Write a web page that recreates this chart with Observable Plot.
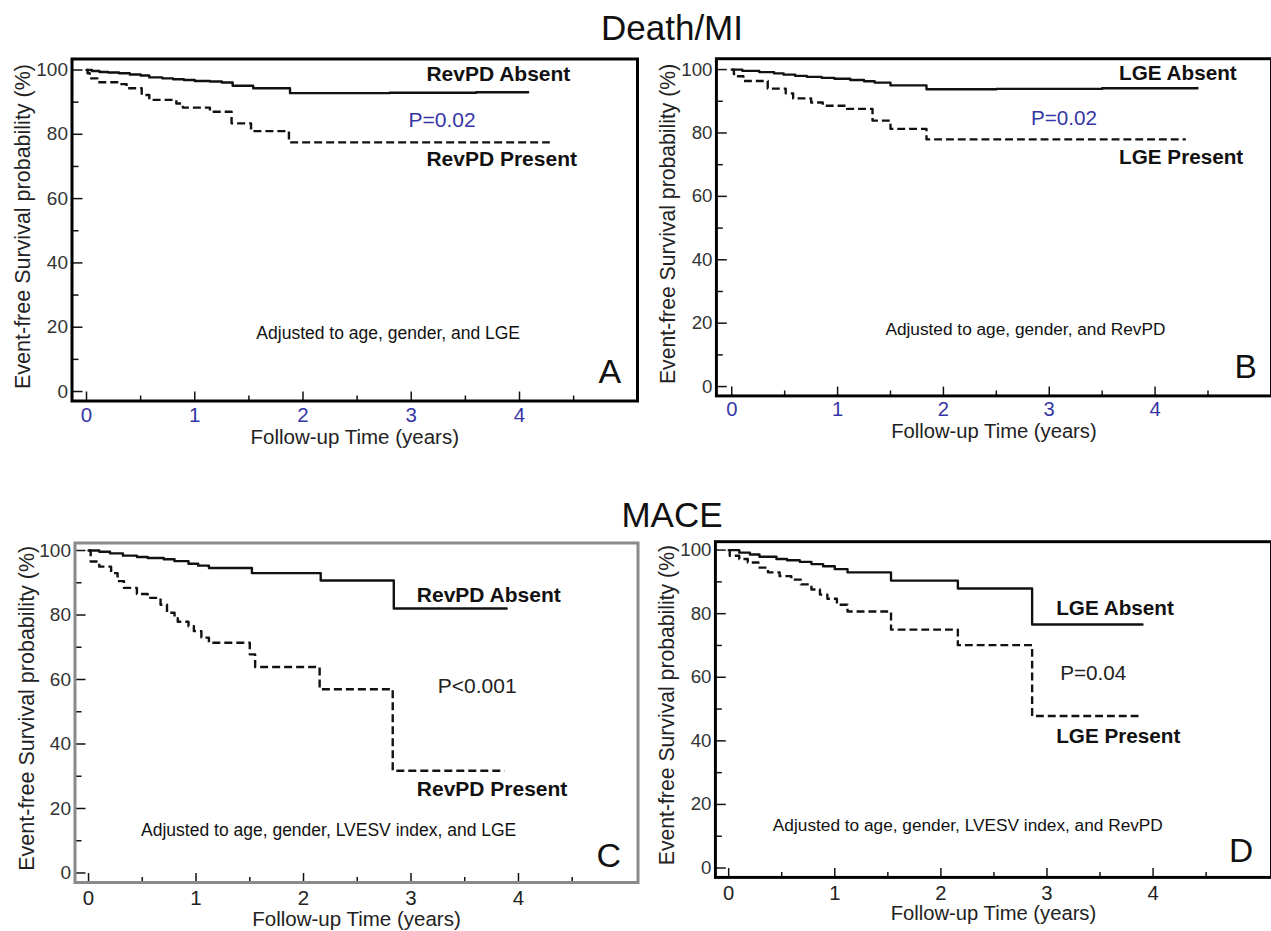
<!DOCTYPE html>
<html>
<head>
<meta charset="utf-8">
<script src="https://cdn.jsdelivr.net/npm/d3@7"></script>
<script src="https://cdn.jsdelivr.net/npm/@observablehq/plot@0.6"></script>
<style>
  html, body { margin: 0; padding: 0; background: #fff; }
  #root { position: relative; width: 1271px; height: 931px; overflow: hidden; background: #fff;
          font-family: "Liberation Sans", Arial, sans-serif; }
  .title { position: absolute; font-size: 35px; line-height: 1; color: #111; transform: translateX(-50%); white-space: nowrap; }
  .panel { position: absolute; }
</style>
</head>
<body>
<div id="root">
  <div class="title" id="t1" style="left:672px; top:10px;">Death/MI</div>
  <div class="title" id="t2" style="left:672px; top:497px;">MACE</div>
</div>
<script>
// ---------- data (time in years, event-free survival in %) ----------
const deathRevpdAbsent = [[0,100],[0.05,99.7],[0.12,99.4],[0.2,99.2],[0.3,99.0],[0.4,98.6],[0.5,98.3],[0.58,97.7],[0.7,97.4],[0.8,97.1],[0.9,96.9],[1.0,96.6],[1.14,96.4],[1.25,96.1],[1.35,95.1],[1.54,94.3],[1.88,92.8],[2.8,92.9],[3.6,93.1],[4.08,93.1]];
const deathRevpdPresent = [[0,100],[0.01,99.0],[0.03,97.4],[0.1,96.2],[0.31,95.6],[0.37,94.3],[0.51,92.2],[0.58,90.7],[0.83,89.6],[0.89,88.3],[1.14,87.0],[1.34,83.4],[1.52,81.0],[1.87,77.5],[4.28,77.5]];
const deathLgeAbsent = [[0,100],[0.1,99.6],[0.26,99.2],[0.4,98.8],[0.49,98.4],[0.6,98.0],[0.71,97.7],[0.85,97.4],[0.97,97.1],[1.12,96.7],[1.25,96.3],[1.35,95.9],[1.5,95.0],[1.84,93.8],[2.5,93.9],[3.5,94.1],[4.40,94.2]];
const deathLgePresent = [[0,100],[0.02,98.6],[0.04,97.9],[0.11,96.4],[0.34,94.0],[0.51,92.5],[0.58,90.9],[0.75,89.6],[0.86,88.6],[1.09,87.6],[1.33,83.9],[1.5,81.3],[1.84,78.0],[4.29,78.0]];
const maceRevpdAbsent = [[0,100],[0.1,99.6],[0.2,99.1],[0.32,98.4],[0.45,98.0],[0.55,97.7],[0.7,97.3],[0.8,96.7],[0.93,95.9],[1.02,95.3],[1.12,94.6],[1.52,93.0],[2.16,90.7],[2.84,82.0],[3.89,82.0]];
const maceRevpdPresent = [[0,100],[0.02,96.6],[0.1,95.0],[0.21,93.0],[0.27,90.5],[0.33,88.4],[0.45,86.5],[0.55,85.3],[0.67,83.2],[0.73,80.7],[0.8,79.0],[0.83,77.9],[0.93,76.5],[0.98,75.0],[1.05,73.0],[1.12,71.4],[1.5,67.8],[1.55,63.9],[2.15,57.0],[2.83,31.7],[3.87,31.7]];
const maceLgeAbsent = [[0,100],[0.1,99.2],[0.2,98.6],[0.29,97.9],[0.45,97.2],[0.55,96.8],[0.67,96.3],[0.78,95.6],[0.89,94.9],[1.0,94.0],[1.12,93.0],[1.53,90.4],[2.16,87.9],[2.86,76.6],[3.9,76.6]];
const maceLgePresent = [[0,100],[0.01,98.2],[0.1,97.2],[0.18,96.1],[0.28,94.5],[0.37,93.0],[0.48,91.8],[0.59,90.7],[0.68,89.2],[0.78,87.6],[0.86,86.0],[0.93,84.7],[1.02,82.8],[1.12,80.7],[1.53,75.0],[2.16,70.1],[2.86,47.8],[3.9,47.8]];

const yMajor = [0, 20, 40, 60, 80, 100];
const yMinor = [10, 30, 50, 70, 90];
const xMajor = [0, 1, 2, 3, 4];
const xMinor = [0.5, 1.5, 2.5, 3.5, 4.5];

const xTitle = "Follow-up Time (years)";
const yTitle = "Event-free Survival probability (%)";

// ---------- panels ----------
const FONT = '"Liberation Sans", Arial, sans-serif';
const BLUE = "#3636a6";

const panels = [
  { left: 0, top: 40, width: 640, height: 420, mT: 18.5, mB: 59.5, mL: 71.5, mR: 3,
    xDom: [-0.134, 5.09], yDom: [-2.95, 103.42], frame: "#000", xTickColor: BLUE,
    tickPadX: 6, xTitleDy: 36.5, yTitleDx: -49, yTitleDy: -3.5,
    absent: deathRevpdAbsent, present: deathRevpdPresent,
    bold: [{t: 3.14, v: 98.6, s: "RevPD Absent"}, {t: 3.14, v: 72.1, s: "RevPD Present"}],
    pval: {t: 3.285, v: 84.5, s: "P=0.02", c: BLUE},
    note: {t: 2.787, v: 18.0, s: "Adjusted to age, gender, and LGE"},
    letter: {t: 4.835, v: 6.0, s: "A"} },
  { left: 640, top: 40, width: 640, height: 420, mT: 18.5, mB: 59.5, mL: 77, mR: 0,
    xDom: [-0.145, 5.10], yDom: [-2.95, 103.42], frame: "#000", xTickColor: BLUE,
    tickPadX: 6, xTitleDy: 36.5, yTitleDx: -49, yTitleDy: -3.5,
    absent: deathLgeAbsent, present: deathLgePresent,
    bold: [{t: 3.66, v: 98.8, s: "LGE Absent"}, {t: 3.66, v: 72.4, s: "LGE Present"}],
    pval: {t: 3.14, v: 84.5, s: "P=0.02", c: BLUE},
    note: {t: 2.775, v: 18.0, s: "Adjusted to age, gender, and RevPD"},
    letter: {t: 4.856, v: 6.0, s: "B"} },
  { left: 0, top: 520, width: 640, height: 411, mT: 22.5, mB: 49, mL: 74.5, mR: 2.5,
    xDom: [-0.126, 5.112], yDom: [-2.95, 102.33], frame: "#8a8a8a", xTickColor: "#222",
    tickPadX: 8, xTitleDy: 36.5, yTitleDx: -48, yTitleDy: -4.5,
    absent: maceRevpdAbsent, present: maceRevpdPresent,
    bold: [{t: 3.054, v: 86.0, s: "RevPD Absent"}, {t: 3.054, v: 26.0, s: "RevPD Present"}],
    pval: {t: 3.616, v: 57.9, s: "P<0.001", c: "#222"},
    note: {t: 2.234, v: 13.3, s: "Adjusted to age, gender, LVESV index, and LGE"},
    letter: {t: 4.84, v: 5.3, s: "C"} },
  { left: 640, top: 520, width: 640, height: 411, mT: 21.5, mB: 49, mL: 76, mR: 0,
    xDom: [-0.125, 5.116], yDom: [-2.95, 102.64], frame: "#000", xTickColor: "#222",
    tickPadX: 8, xTitleDy: 36.5, yTitleDx: -48.6, yTitleDy: -4.5,
    absent: maceLgeAbsent, present: maceLgePresent,
    bold: [{t: 3.087, v: 81.6, s: "LGE Absent"}, {t: 3.087, v: 41.5, s: "LGE Present"}],
    pval: {t: 3.436, v: 61.2, s: "P=0.04", c: "#222"},
    note: {t: 2.254, v: 13.3, s: "Adjusted to age, gender, LVESV index, and RevPD"},
    letter: {t: 4.83, v: 5.3, s: "D"} }
];

const noText = () => "";
const intFmt = d => String(d);

function buildPanel(p) {
  const pt = d => d[0], pv = d => d[1];
  return Plot.plot({
    width: p.width, height: p.height,
    marginTop: p.mT, marginBottom: p.mB, marginLeft: p.mL, marginRight: p.mR,
    style: { fontFamily: FONT, background: "transparent", overflow: "visible" },
    x: { domain: p.xDom },
    y: { domain: p.yDom },
    marks: [
      // inward ticks (outward ticks shifted into the frame)
      Plot.axisY({ ticks: yMajor, tickSize: 11, dx: 11, tickFormat: noText, label: null, stroke: "#111", strokeWidth: 1.5 }),
      Plot.axisY({ ticks: yMinor, tickSize: 7, dx: 7, tickFormat: noText, label: null, stroke: "#111", strokeWidth: 1.5 }),
      Plot.axisX({ ticks: xMajor, tickSize: 9, dy: -9, tickFormat: noText, label: null, stroke: "#111", strokeWidth: 1.5 }),
      Plot.axisX({ ticks: xMinor, tickSize: 5, dy: -5, tickFormat: noText, label: null, stroke: "#111", strokeWidth: 1.5 }),
      // tick labels
      Plot.axisY({ ticks: yMajor, tickSize: 0, tickPadding: 4, tickFormat: intFmt, label: null, fill: "#333", fontSize: 19 }),
      Plot.axisX({ ticks: xMajor, tickSize: 0, tickPadding: p.tickPadX, tickFormat: intFmt, label: null, fill: p.xTickColor, fontSize: 20.5 }),
      // axis titles
      Plot.text([xTitle], { frameAnchor: "bottom", dy: p.xTitleDy, fontSize: 20.5, fill: "#222", lineAnchor: "middle", textAnchor: "middle" }),
      Plot.text([yTitle], { frameAnchor: "left", rotate: -90, dx: p.yTitleDx, dy: p.yTitleDy, fontSize: 21.5, fill: "#222", textAnchor: "middle", lineAnchor: "middle" }),
      // curves
      Plot.line(p.absent, { x: pt, y: pv, curve: "step-after", stroke: "#111", strokeWidth: 2.4 }),
      Plot.line(p.present, { x: pt, y: pv, curve: "step-after", stroke: "#111", strokeWidth: 2.4,
                             strokeDasharray: "8,4", strokeLinecap: "butt" }),
      // annotations
      Plot.text(p.bold, { x: "t", y: "v", text: "s", textAnchor: "start", fontWeight: "bold", fontSize: 21, fill: "#111" }),
      Plot.text([p.pval], { x: "t", y: "v", text: "s", fontSize: 21, fill: p.pval.c }),
      Plot.text([p.note], { x: "t", y: "v", text: "s", fontSize: 17.5, fill: "#111" }),
      Plot.text([p.letter], { x: "t", y: "v", text: "s", fontSize: 34, fill: "#111" }),
      // frame
      Plot.frame({ stroke: p.frame, strokeWidth: 3 })
    ]
  });
}

const root = document.getElementById("root");
for (const p of panels) {
  const wrap = document.createElement("div");
  wrap.className = "panel";
  wrap.style.left = p.left + "px";
  wrap.style.top = p.top + "px";
  wrap.appendChild(buildPanel(p));
  root.appendChild(wrap);
}
</script>
</body>
</html>
